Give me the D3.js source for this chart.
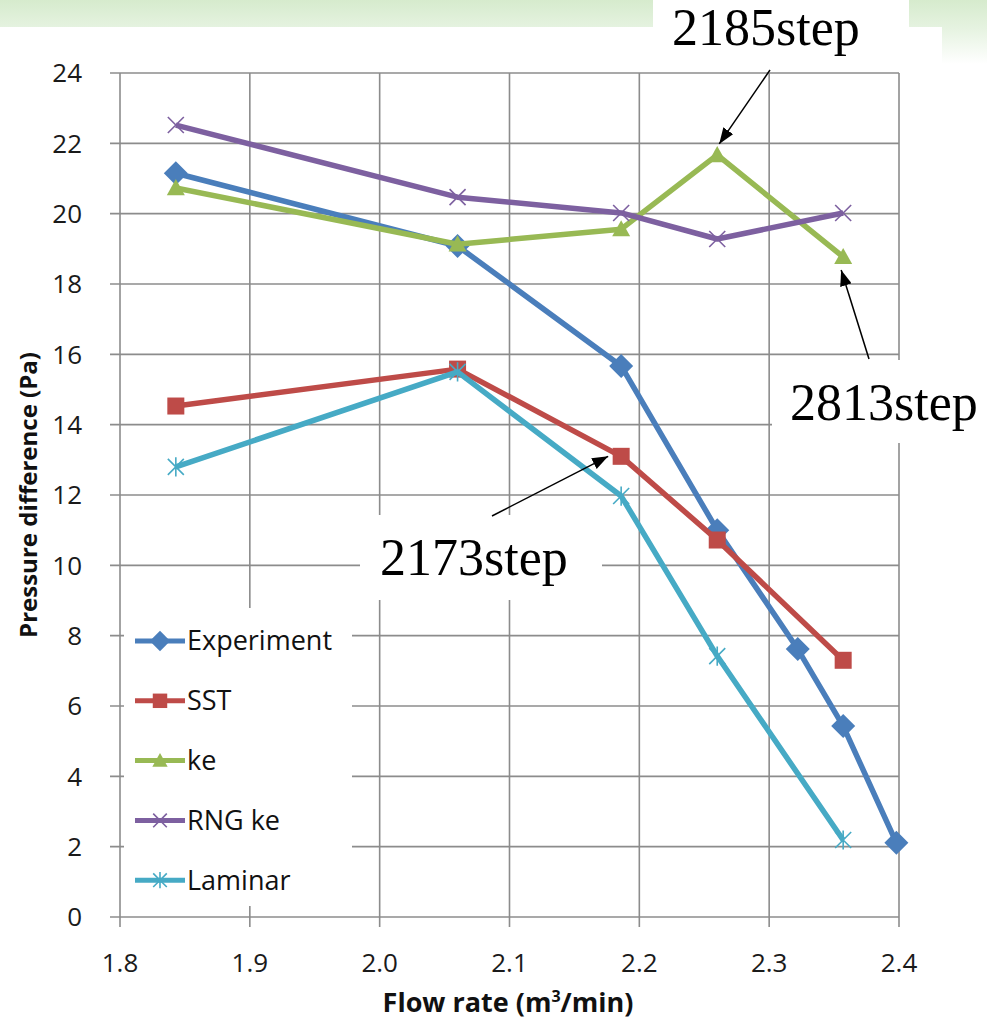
<!DOCTYPE html>
<html>
<head>
<meta charset="utf-8">
<script src="https://cdn.jsdelivr.net/npm/d3@7"></script>
<style>
  body { margin: 0; background: #fff; }
  svg { display: block; }
  .tick-label { font-family: "Open Sans", "Noto Sans", sans-serif; font-size: 26px; fill: #1a1a1a; }
  .axis-title { font-family: "Open Sans", "Noto Sans", sans-serif; font-size: 24px; font-weight: bold; fill: #111; }
  .legend-text { font-family: "Open Sans", "Noto Sans", sans-serif; font-size: 27px; fill: #111; }
  .note { font-family: "Liberation Serif", "DejaVu Serif", serif; font-size: 52px; fill: #000; }
</style>
</head>
<body>
<div id="chart"></div>
<script>
const width = 987;
const height = 1020;

// flow rate (m3/min)
const flowExp = [1.843, 2.06, 2.186, 2.26, 2.322, 2.357, 2.398];
const flowSim = [1.843, 2.06, 2.186, 2.26, 2.357];

// pressure difference (Pa)
const experiment = [21.15, 19.08, 15.67, 11.0, 7.62, 5.43, 2.11];
const sst = [14.53, 15.58, 13.1, 10.72, 7.3];
const ke = [20.73, 19.13, 19.56, 21.67, 18.77];
const rngKe = [22.52, 20.47, 20.02, 19.28, 20.02];
const laminar = [12.8, 15.5, 11.97, 7.42, 2.19];

const seriesNames = ["Experiment", "SST", "ke", "RNG ke", "Laminar"];
const seriesColors = ["#4a7ebb", "#be4b48", "#98b954", "#7d60a0", "#46aac5"];
const seriesMarkers = ["diamond", "square", "triangle", "cross", "star"];

const xTicks = [1.8, 1.9, 2.0, 2.1, 2.2, 2.3, 2.4];
const yTicks = [0, 2, 4, 6, 8, 10, 12, 14, 16, 18, 20, 22, 24];

const series = [
    {name: seriesNames[0], xs: flowExp, ys: experiment},
    {name: seriesNames[1], xs: flowSim, ys: sst},
    {name: seriesNames[2], xs: flowSim, ys: ke},
    {name: seriesNames[3], xs: flowSim, ys: rngKe},
    {name: seriesNames[4], xs: flowSim, ys: laminar}
].map((s, i) => ({...s, color: seriesColors[i], marker: seriesMarkers[i],
                  points: s.xs.map((x, j) => [x, s.ys[j]])}));

const plot = {left: 120, right: 899, top: 73, bottom: 917};

const x = d3.scaleLinear().domain([1.8, 2.4]).range([plot.left, plot.right]);
const y = d3.scaleLinear().domain([0, 24]).range([plot.bottom, plot.top]);

const svg = d3.select('#chart').append('svg')
    .attr('width', width)
    .attr('height', height)
    .attr('viewBox', [0, 0, width, height]);

// slide background: green band fading at the top
const defs = svg.append('defs');
const grad = defs.append('linearGradient')
    .attr('id', 'slideGreen')
    .attr('x1', 0).attr('y1', 0).attr('x2', 0).attr('y2', 1);
grad.append('stop').attr('offset', '0%').attr('stop-color', '#d6ebcd');
grad.append('stop').attr('offset', '45%').attr('stop-color', '#e6f3e1');
grad.append('stop').attr('offset', '100%').attr('stop-color', '#ffffff');

defs.append('marker')
    .attr('id', 'arrowHead')
    .attr('viewBox', '0 0 16 12')
    .attr('refX', 16)
    .attr('refY', 6)
    .attr('markerWidth', 16)
    .attr('markerHeight', 12)
    .attr('markerUnits', 'userSpaceOnUse')
    .attr('orient', 'auto')
  .append('path')
    .attr('d', 'M0,0 L16,6 L0,12 Z')
    .attr('fill', '#000');

svg.append('rect')
    .attr('x', 0).attr('y', 0)
    .attr('width', width).attr('height', 64)
    .attr('fill', 'url(#slideGreen)');

// the pasted chart picture (white)
svg.append('rect')
    .attr('x', 0).attr('y', 27)
    .attr('width', 942).attr('height', height - 27)
    .attr('fill', '#fff');

// Grid
const grid = svg.append('g').attr('stroke', '#8c8c8c').attr('stroke-width', 1.6);

grid.selectAll('line.hgrid')
    .data(yTicks)
    .join('line')
    .classed('hgrid', true)
    .attr('x1', plot.left - 10)
    .attr('x2', x(2.4))
    .attr('y1', d => y(d))
    .attr('y2', d => y(d));

grid.selectAll('line.vgrid')
    .data(xTicks)
    .join('line')
    .classed('vgrid', true)
    .attr('x1', d => x(d))
    .attr('x2', d => x(d))
    .attr('y1', y(24))
    .attr('y2', plot.bottom + 10);

// Tick labels
svg.append('g')
    .selectAll('text')
    .data(yTicks)
    .join('text')
    .classed('tick-label', true)
    .attr('x', plot.left - 38)
    .attr('y', d => y(d))
    .attr('dy', '0.36em')
    .attr('text-anchor', 'end')
    .text(d => d);

svg.append('g')
    .selectAll('text')
    .data(xTicks)
    .join('text')
    .classed('tick-label', true)
    .attr('x', d => x(d))
    .attr('y', plot.bottom + 55)
    .attr('text-anchor', 'middle')
    .text(d => d3.format('.1f')(d));

// Axis titles
const xTitle = svg.append('text')
    .classed('axis-title', true)
    .attr('x', 508)
    .attr('y', 1012)
    .attr('text-anchor', 'middle')
    .style('font-size', '27px');
xTitle.append('tspan').text('Flow rate (m');
xTitle.append('tspan').attr('font-size', '16px').attr('dy', -10).text('3');
xTitle.append('tspan').attr('dy', 10).text('/min)');

svg.append('text')
    .classed('axis-title', true)
    .attr('transform', 'translate(37,' + ((plot.top + plot.bottom) / 2) + ') rotate(-90)')
    .attr('text-anchor', 'middle')
    .text('Pressure difference (Pa)');

// Markers
function drawMarker(g, type, color, scale = 1) {
    if (type === 'diamond') {
        const r = 12 * scale;
        g.append('path').attr('d', `M0,${-r} L${r},0 L0,${r} L${-r},0 Z`).attr('fill', color);
    } else if (type === 'square') {
        const s = 8.5 * scale;
        g.append('rect').attr('x', -s).attr('y', -s).attr('width', 2 * s).attr('height', 2 * s).attr('fill', color);
    } else if (type === 'triangle') {
        const s = 9 * scale;
        g.append('path').attr('d', `M0,${-s} L${s},${s * 0.8} L${-s},${s * 0.8} Z`).attr('fill', color);
    } else if (type === 'cross') {
        const s = 8 * scale;
        g.append('path').attr('d', `M${-s},${-s} L${s},${s} M${-s},${s} L${s},${-s}`)
            .attr('stroke', color).attr('stroke-width', 1.6).attr('fill', 'none');
    } else if (type === 'star') {
        const s = 8 * scale;
        g.append('path').attr('d', `M${-s},${-s} L${s},${s} M${-s},${s} L${s},${-s} M0,${-s * 1.2} L0,${s * 1.2}`)
            .attr('stroke', color).attr('stroke-width', 1.6).attr('fill', 'none');
    }
}

// Lines and points
const line = d3.line()
    .x(d => x(d[0]))
    .y(d => y(d[1]));

const seriesG = svg.append('g')
    .selectAll('g.series')
    .data(series)
    .join('g')
    .classed('series', true);

seriesG.append('path')
    .attr('d', d => line(d.points))
    .attr('fill', 'none')
    .attr('stroke', d => d.color)
    .attr('stroke-width', 5.5)
    .attr('stroke-linejoin', 'round');

seriesG.each(function(s) {
    d3.select(this).selectAll('g.pt')
        .data(s.points)
        .join('g')
        .classed('pt', true)
        .attr('transform', d => 'translate(' + x(d[0]) + ',' + y(d[1]) + ')')
        .each(function() { drawMarker(d3.select(this), s.marker, s.color); });
});

// Legend
const legend = svg.append('g');
legend.append('rect')
    .attr('x', 124).attr('y', 608)
    .attr('width', 228).attr('height', 298)
    .attr('fill', '#fff');

const legendItem = legend.selectAll('g.item')
    .data(series)
    .join('g')
    .classed('item', true)
    .attr('transform', (d, i) => 'translate(0,' + (641 + i * 59.8) + ')');

legendItem.append('line')
    .attr('x1', 135).attr('x2', 185)
    .attr('y1', 0).attr('y2', 0)
    .attr('stroke', d => d.color)
    .attr('stroke-width', 5);

legendItem.append('g')
    .attr('transform', 'translate(160,0)')
    .each(function(d) { drawMarker(d3.select(this), d.marker, d.color, 0.85); });

legendItem.append('text')
    .classed('legend-text', true)
    .attr('x', 187)
    .attr('y', 0)
    .attr('dy', '0.35em')
    .text(d => d.name);

// Annotations (text boxes with arrows)
const notes = [
    {label: '2185step', box: [653, 0, 256, 70], tx: 672, ty: 45,
     from: [770, 70], at: [2.26, ke[3]], off: [2, -11]},
    {label: '2813step', box: [772, 360, 215, 83], tx: 790, ty: 420,
     from: [869, 359], at: [2.357, ke[4]], off: [-2, 13]},
    {label: '2173step', box: [360, 515, 242, 85], tx: 380, ty: 575,
     from: [492, 516], at: [2.186, sst[2]], off: [-13, 0]}
];

const noteG = svg.append('g')
    .selectAll('g.note')
    .data(notes)
    .join('g');

noteG.append('rect')
    .attr('x', d => d.box[0]).attr('y', d => d.box[1])
    .attr('width', d => d.box[2]).attr('height', d => d.box[3])
    .attr('fill', '#fff');

noteG.append('text')
    .classed('note', true)
    .attr('x', d => d.tx)
    .attr('y', d => d.ty)
    .text(d => d.label);

noteG.append('line')
    .attr('x1', d => d.from[0]).attr('y1', d => d.from[1])
    .attr('x2', d => x(d.at[0]) + d.off[0])
    .attr('y2', d => y(d.at[1]) + d.off[1])
    .attr('stroke', '#000')
    .attr('stroke-width', 1.5)
    .attr('marker-end', 'url(#arrowHead)');
</script>
</body>
</html>
